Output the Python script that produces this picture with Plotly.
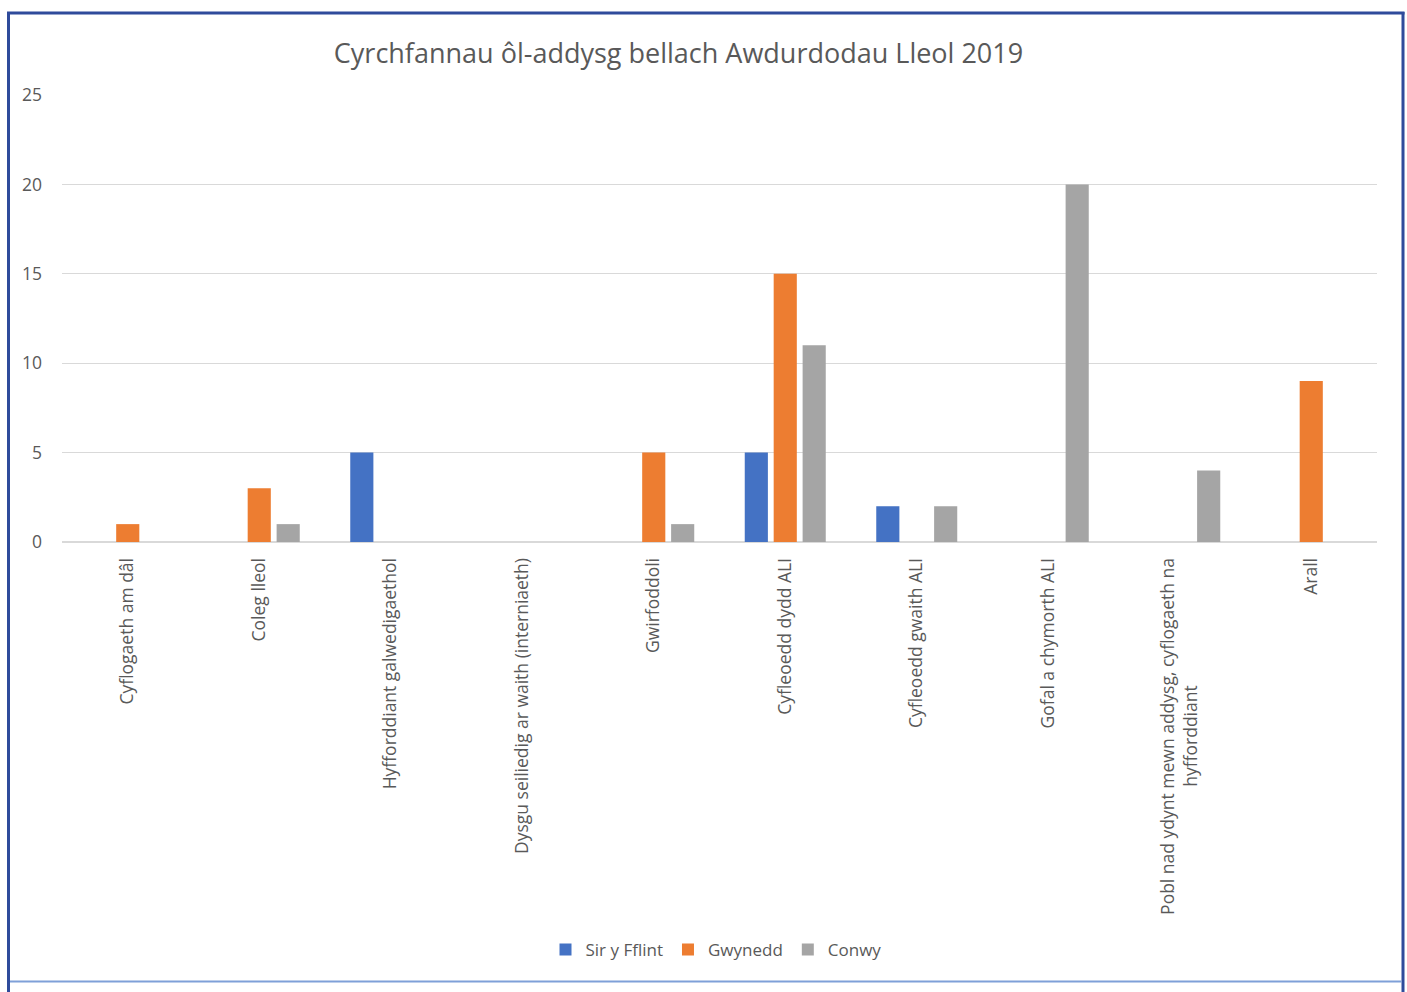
import plotly.graph_objects as go

categories = [
    "Cyflogaeth am dâl",
    "Coleg lleol",
    "Hyfforddiant galwedigaethol",
    "Dysgu seiliedig ar waith (interniaeth)",
    "Gwirfoddoli",
    "Cyfleoedd dydd ALI",
    "Cyfleoedd gwaith ALI",
    "Gofal a chymorth ALI",
    "Pobl nad ydynt mewn addysg, cyflogaeth na<br>hyfforddiant" + "\u00a0" * 28,
    "Arall",
]
sir_y_fflint = [0, 0, 5, 0, 0, 5, 2, 0, 0, 0]
gwynedd = [1, 3, 0, 0, 5, 15, 0, 0, 0, 9]
conwy = [0, 1, 0, 0, 1, 11, 2, 20, 4, 0]
y_ticks = [0, 5, 10, 15, 20, 25]

W, H = 1407, 992
L, R, T, B = 62, 30, 95, 450
pw, ph = W - L - R, H - T - B

def px(x):
    return (x - L) / pw

def py(y):
    return (H - B - y) / ph

FONT = "Open Sans"
GREY_TXT = "#595959"
FS = 17.5

fig = go.Figure()
for name, vals, col in [("Sir y Fflint", sir_y_fflint, "#4472C4"),
                        ("Gwynedd", gwynedd, "#ED7D31"),
                        ("Conwy", conwy, "#A5A5A5")]:
    fig.add_trace(go.Bar(x=categories, y=vals, name=name,
                         marker=dict(color=col, line=dict(width=0))))

fig.update_layout(
    width=W, height=H,
    margin=dict(l=L, r=R, t=T, b=B, autoexpand=False),
    paper_bgcolor="white", plot_bgcolor="white",
    barmode="group", bargap=0.34, bargroupgap=0.2,
    font=dict(family=FONT, color=GREY_TXT, size=FS),
    title=dict(text="Cyrchfannau ôl-addysg bellach Awdurdodau Lleol 2019",
               x=678.5 / W, xanchor="center", y=1 - 54 / H, yanchor="middle",
               font=dict(family=FONT, size=27, color=GREY_TXT)),
    legend=dict(orientation="h", x=px(716), xanchor="center",
                y=py(950), yanchor="middle", font=dict(size=17, color=GREY_TXT),
                itemwidth=30, traceorder="normal"),
    xaxis=dict(tickangle=-90, showgrid=False, showline=True, linecolor="#d9d9d9",
               linewidth=1, ticks="", tickfont=dict(size=FS, color=GREY_TXT),
               ticklabelstandoff=8),
    yaxis=dict(range=[0, 25], tickvals=y_ticks, showgrid=True, gridcolor="#d9d9d9",
               gridwidth=1, zeroline=True, zerolinecolor="#d9d9d9", showline=False,
               ticks="", tickfont=dict(size=FS, color=GREY_TXT),
               ticklabelstandoff=19),
)

# chart frame
frame_col = "#2F4B9B"
fig.add_shape(type="line", xref="paper", yref="paper", x0=px(8.5), x1=px(8.5),
              y0=py(12), y1=py(1000), line=dict(color=frame_col, width=3))
fig.add_shape(type="line", xref="paper", yref="paper", x0=px(1403), x1=px(1403),
              y0=py(12), y1=py(1000), line=dict(color=frame_col, width=3))
fig.add_shape(type="line", xref="paper", yref="paper", x0=px(7), x1=px(1404.5),
              y0=py(13), y1=py(13), line=dict(color=frame_col, width=3))
fig.add_shape(type="line", xref="paper", yref="paper", x0=px(10), x1=px(1401.5),
              y0=py(981.5), y1=py(981.5), line=dict(color="#7FA0D8", width=2))

fig.write_html("out.html", config={"displayModeBar": False},
               post_script="document.body.style.margin='0';")
